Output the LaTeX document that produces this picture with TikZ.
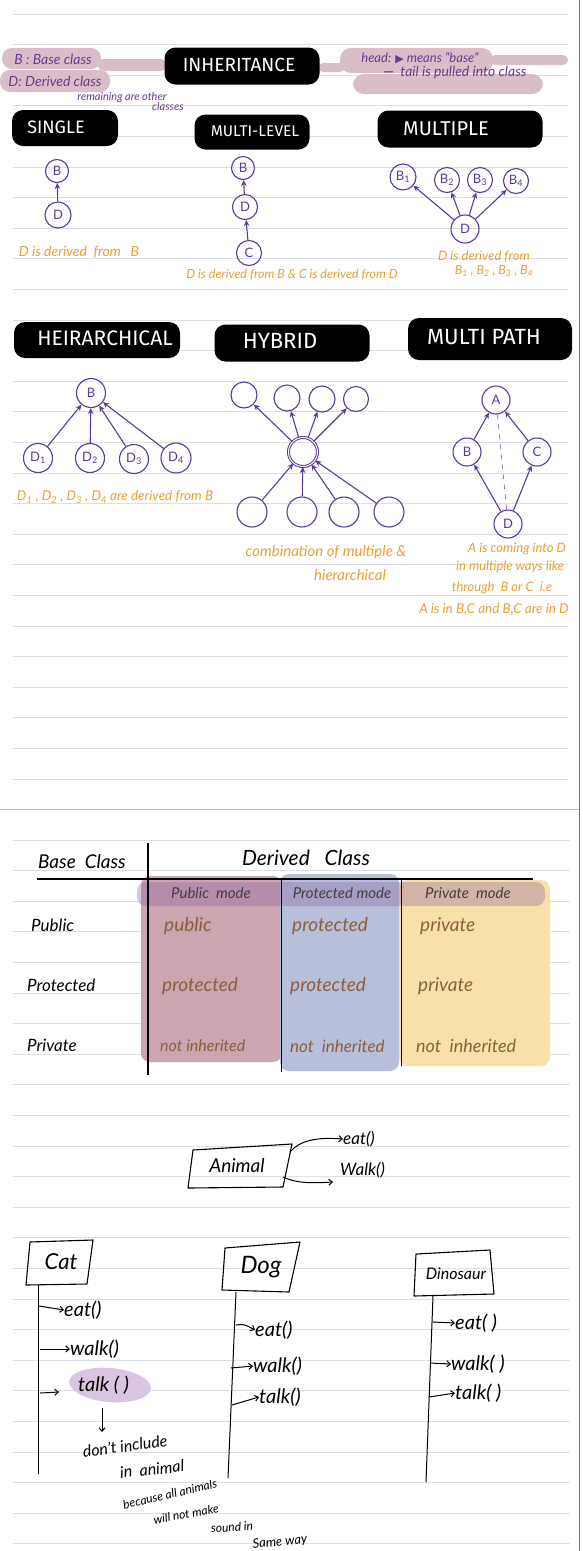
\documentclass[tikz,border=0pt]{standalone}
\usepackage{fontspec}
\setmainfont{Lato}
\newfontfamily\titlef{Fira Sans}
\newfontfamily\symf{DejaVu Sans}
\usetikzlibrary{arrows.meta}
\definecolor{ink}{HTML}{5B3A9A}
\definecolor{orng}{HTML}{E9A033}
\definecolor{ruleclr}{HTML}{DCDFE8}
\definecolor{pinkhl}{HTML}{D9BDC8}
\definecolor{notep}{HTML}{6A3A8C}
\definecolor{tpink}{HTML}{CBA5B0}
\definecolor{tblue}{HTML}{B7BFDA}
\definecolor{tyell}{HTML}{F7E1A9}
\definecolor{tband}{HTML}{8E5F9E}
\definecolor{brown}{HTML}{8B5E3C}
\definecolor{lilac}{HTML}{D9C5E1}
\newcommand\fs[1]{\fontsize{#1}{#1}\selectfont}
\tikzset{
  ruleline/.style={draw=ruleclr, line width=0.9pt},
  circ/.style={circle, draw=ink, line width=1.1pt, minimum size=24pt, inner sep=0pt,
    text=ink, font=\fs{13}},
  parr/.style={-{Stealth[length=6pt,width=5.5pt]}, draw=ink, line width=1.1pt},
  captxt/.style={text=orng, font=\itshape\fs{13}, inner sep=0pt},
  ttl/.style={fill=black, rounded corners=11pt, inner sep=0pt},
  ttxt/.style={text=white, inner sep=0pt},
  pill/.style={fill=pinkhl},
  notetxt/.style={text=notep, font=\itshape\fs{14}, inner sep=0pt},
  hand/.style={line width=1.1pt, line join=round},
  barr/.style={-{Straight Barb[length=3.5pt,width=6pt]}, line width=1pt},
  btxt/.style={inner sep=0pt, font=\itshape\fs{20}},
  celltxt/.style={inner sep=0pt, text=brown, font=\itshape\fs{19}, anchor=west},
  modetxt/.style={inner sep=0pt, text=black!75, font=\itshape\fs{15}},
  rowl/.style={inner sep=0pt, font=\itshape\fs{17}, anchor=west}
}
\begin{document}
\begin{tikzpicture}[x=1pt,y=-1pt]
\useasboundingbox (0,0) rectangle (583,1551);
\fill[white] (0,0) rectangle (583,1551);
% ruled lines
\foreach \k in {0,...,25} {\draw[ruleline] (13,{14+30.6*\k}) -- (568,{14+30.6*\k});}
\foreach \k in {0,...,23} {\draw[ruleline] (13,{840+30.6*\k}) -- (570,{840+30.6*\k});}
\draw[black!25, line width=1pt] (0,809) -- (579,809);
\draw[black!55, line width=1.2pt] (579.5,0) -- (579.5,1551);

% ---------------- header ----------------
\fill[pill, rounded corners=10pt] (2,48) rectangle (101,69);
\fill[pill, rounded corners=10pt] (0,70) rectangle (110,92);
\fill[pill, rounded corners=6pt] (98,59) rectangle (166,71);
\fill[pill, rounded corners=5pt] (318,63) rectangle (345,72);
\fill[pill, rounded corners=11pt] (340,48) rectangle (493,73);
\fill[pill, rounded corners=5pt] (490,55) rectangle (568,65);
\fill[pill, rounded corners=11pt] (353,74) rectangle (543,94);
\node[notetxt] (nB) at (53,59) {B : Base class};
\node[notetxt] (nD) at (55,81) {D: Derived class};
\node[notetxt, font=\itshape\fs{11}] (nR1) at (122,97) {remaining are other};
\node[notetxt, font=\itshape\fs{11}] (nR2) at (168,106) {classes};
\node[ttl, minimum width=155pt, minimum height=37pt] (bInh) at (242,66) {};
\node[ttxt, font=\titlef\fs{19}] (tInh) at (239,65) {INHERITANCE};
\node[notetxt, font=\itshape\fs{13}] (nHead) at (420,58) {head: {\symf\fs{11}▶} means ``base''};
\node[notetxt] (nTail) at (455,73) {\textbf{---} \ tail is pulled into class};

% ---------------- row 1 titles ----------------
\node[ttl, minimum width=106pt, minimum height=36pt] (bSingle) at (65,128) {};
\node[ttxt, font=\titlef\fs{18}] (tSingle) at (56,127) {SINGLE};
\node[ttl, minimum width=115pt, minimum height=35pt] (bMulti) at (252,132) {};
\node[ttxt, font=\titlef\fs{15.5}] (tMulti) at (255,131) {MULTI-LEVEL};
\node[ttl, minimum width=165pt, minimum height=37pt] (bMultiple) at (460,129) {};
\node[ttxt, font=\titlef\fs{20}] (tMultiple) at (446,129) {MULTIPLE};

% SINGLE
\node[circ, minimum size=23pt] (sB) at (57,171) {B};
\node[circ, minimum size=26pt] (sD) at (58,215) {D};
\draw[parr] (sD) -- (sB);
\node[captxt, font=\itshape\fs{14}] (cSingle) at (79,252) {D is derived \ from \ \ B};

% MULTI-LEVEL
\node[circ, minimum size=23pt] (mB) at (243,168) {B};
\node[circ, minimum size=25pt] (mD) at (245,207) {D};
\node[circ, minimum size=25pt] (mC) at (249,253) {C};
\draw[parr] (mD) -- (mB);
\draw[parr] (mC) -- (mD);
\node[captxt, font=\itshape\fs{12.5}] (cMulti) at (292,275) {D is derived from B \& C is derived from D};

% MULTIPLE
\node[circ, minimum size=26pt] (pB1) at (403,177) {B\textsubscript{1}};
\node[circ, minimum size=25pt] (pB2) at (447,180) {B\textsubscript{2}};
\node[circ, minimum size=25pt] (pB3) at (480,180) {B\textsubscript{3}};
\node[circ, minimum size=25pt] (pB4) at (516,181) {B\textsubscript{4}};
\node[circ, minimum size=28pt] (pD) at (465,229) {D};
\draw[parr] (pD) -- (pB1);
\draw[parr] (pD) -- (pB2);
\draw[parr] (pD) -- (pB3);
\draw[parr] (pD) -- (pB4);
\node[captxt] (cMul1) at (484,257) {D is derived from};
\node[captxt, font=\itshape\fs{12.5}] (cMul2) at (494,271) {B\textsubscript{1} , B\textsubscript{2} , B\textsubscript{3} , B\textsubscript{4}};

% ---------------- row 2 titles ----------------
\node[ttl, minimum width=166pt, minimum height=36pt] (bHier) at (97,340) {};
\node[ttxt, font=\titlef\fs{21}] (tHier) at (105,338) {HEIRARCHICAL};
\node[ttl, minimum width=155pt, minimum height=37pt] (bHyb) at (292,343) {};
\node[ttxt, font=\titlef\fs{22}] (tHyb) at (280,341) {HYBRID};
\node[ttl, minimum width=164pt, minimum height=42pt] (bPath) at (490,339) {};
\node[ttxt, font=\titlef\fs{22}] (tPath) at (484,337) {MULTI PATH};

% HEIRARCHICAL
\node[circ, minimum size=29pt] (hB) at (91,393) {B};
\node[circ, minimum size=29pt] (hD1) at (38,458) {D\textsubscript{1}};
\node[circ, minimum size=29pt] (hD2) at (90,458) {D\textsubscript{2}};
\node[circ, minimum size=29pt] (hD3) at (134,459) {D\textsubscript{3}};
\node[circ, minimum size=30pt] (hD4) at (176,458) {D\textsubscript{4}};
\draw[parr] (hD1) -- (hB);
\draw[parr] (hD2) -- (hB);
\draw[parr] (hD3) -- (hB);
\draw[parr] (hD4) -- (hB);
\node[captxt, font=\itshape\fs{13.5}] (cHier) at (115,497) {D\textsubscript{1} , D\textsubscript{2} , D\textsubscript{3} , D\textsubscript{4} are derived from B};

% HYBRID
\node[circ, minimum size=26pt] (yT1) at (244,395) {};
\node[circ, minimum size=26pt] (yT2) at (287,398) {};
\node[circ, minimum size=26pt] (yT3) at (322,399) {};
\node[circ, minimum size=25pt] (yT4) at (356,399) {};
\node[circ, minimum size=29pt, line width=1pt, double=white, double distance=1pt] (yC) at (303,452) {};
\node[circ, minimum size=30pt] (yB1) at (252,512) {};
\node[circ, minimum size=30pt] (yB2) at (302,512) {};
\node[circ, minimum size=30pt] (yB3) at (344,512) {};
\node[circ, minimum size=30pt] (yB4) at (389,512) {};
\draw[parr] (yC) -- (yT1);
\draw[parr] (yC) -- (yT2);
\draw[parr] (yC) -- (yT3);
\draw[parr] (yC) -- (yT4);
\draw[parr] (yB1) -- (yC);
\draw[parr] (yB2) -- (yC);
\draw[parr] (yB3) -- (yC);
\draw[parr] (yB4) -- (yC);
\node[captxt, font=\itshape\fs{15}] (cHyb1) at (326,552) {combination of multiple \&};
\node[captxt, font=\itshape\fs{15}] (cHyb2) at (350,575) {hierarchical};

% MULTI PATH
\node[circ, minimum size=28pt] (xA) at (496,400) {A};
\node[circ, minimum size=28pt] (xB) at (467,452) {B};
\node[circ, minimum size=28pt] (xC) at (537,452) {C};
\node[circ, minimum size=28pt] (xD) at (508,524) {D};
\draw[parr] (xB) -- (xA);
\draw[parr] (xC) -- (xA);
\draw[parr] (xD) -- (xB);
\draw[parr] (xD) -- (xC);
\draw[ink!70, line width=0.7pt, dash pattern=on 5pt off 5pt] (xA) -- (xD);
\node[captxt] (cPath1) at (517,549) {A is coming into D};
\node[captxt] (cPath2) at (510,567) {in multiple ways like};
\node[captxt] (cPath3) at (502,588) {through \ B or C \ i.e};
\node[captxt, font=\itshape\fs{13.5}] (cPath4) at (494,609) {A is in B,C and B,C are in D};

% ---------------- table ----------------
\fill[tpink, rounded corners=9pt] (141,876) rectangle (282,1062);
\fill[tblue, rounded corners=9pt] (280,874) rectangle (399,1071);
\fill[tyell, rounded corners=9pt] (399,880) rectangle (550,1066);
\fill[tband, opacity=0.35, rounded corners=9pt] (137,882) rectangle (545,906);
\draw[line width=1.1pt] (148,843) -- (148,1075);
\draw[line width=1.1pt] (37,879) -- (533,879);
\draw[line width=0.9pt] (281,880) -- (281,1072);
\draw[line width=0.9pt] (401,880) -- (401,1066);
\node[inner sep=0pt, font=\itshape\fs{19}] (hBase) at (82,862) {Base \ Class};
\node[inner sep=0pt, font=\itshape\fs{21}] (hDer) at (306,858) {Derived \ \ Class};
\node[rowl] (rPub) at (31,925) {Public};
\node[rowl] (rProt) at (27,985) {Protected};
\node[rowl] (rPriv) at (27,1045) {Private};
\node[modetxt] (mPub) at (211,893) {Public \ mode};
\node[modetxt] (mProt) at (342,893) {Protected mode};
\node[modetxt] (mPriv) at (468,893) {Private \ mode};
\node[celltxt] (c11) at (164,926) {public};
\node[celltxt] (c12) at (292,926) {protected};
\node[celltxt] (c13) at (420,926) {private};
\node[celltxt] (c21) at (162,986) {protected};
\node[celltxt] (c22) at (290,986) {protected};
\node[celltxt] (c23) at (418,986) {private};
\node[celltxt, font=\itshape\fs{16}] (c31) at (160,1046) {not inherited};
\node[celltxt, font=\itshape\fs{17}] (c32) at (290,1046) {not \ inherited};
\node[celltxt, font=\itshape\fs{18}] (c33) at (416,1046) {not \ inherited};

% ---------------- Animal ----------------
\draw[hand] (193,1150) -- (292,1144) -- (283,1187) -- (188,1188) -- cycle;
\node[btxt, font=\itshape\fs{19}] (animal) at (237,1166) {Animal};
\node[btxt, anchor=west, font=\itshape\fs{17}] (aEat) at (343,1139) {eat()};
\node[btxt, anchor=west, font=\itshape\fs{17}] (aWalk) at (340,1170) {Walk()};
\coordinate (aS1) at (290,1152);
\coordinate (aS2) at (283,1177);
\coordinate (aE2) at (333,1182);
\draw[barr] (aS1) .. controls (300,1140) and (318,1137) .. (aEat.west);
\draw[barr] (aS2) .. controls (298,1184) and (315,1183) .. (aE2);

% ---------------- Cat ----------------
\draw[hand] (30,1242) -- (93,1240) -- (87,1284) -- (26,1285) -- cycle;
\node[btxt, font=\itshape\fs{22}] (cat) at (61,1262) {Cat};
\coordinate (catTop) at (38,1285);
\coordinate (catBot) at (38,1474);
\draw[line width=1pt] (catTop) -- (catBot);
\fill[lilac, rotate around={-5:(110,1385)}] (110,1385) ellipse (41pt and 17pt);
\node[btxt, anchor=west] (catEat) at (64,1310) {eat()};
\node[btxt, anchor=west] (catWalk) at (70,1349) {walk()};
\node[btxt, anchor=west] (catTalk) at (78,1385) {talk ( )};
\coordinate (ca1) at (39,1306); \coordinate (ca2) at (40,1349); \coordinate (ca3) at (40,1393);
\coordinate (ca3e) at (59,1392);
\draw[barr] (ca1) -- (catEat.west);
\draw[barr] (ca2) -- (catWalk.west);
\draw[barr] (ca3) -- (ca3e);
\coordinate (cdTop) at (102,1408);
\coordinate (cdBot) at (102,1432);
\draw[barr] (cdTop) -- (cdBot);
\node[btxt, font=\itshape\fs{16}, rotate=8] (n1) at (125,1446) {don't include};
\node[btxt, font=\itshape\fs{16}, rotate=6] (n2) at (152,1469) {in \ animal};
\node[btxt, font=\itshape\fs{12}, rotate=13] (n3) at (170,1494) {because all animals};
\node[btxt, font=\itshape\fs{12}, rotate=10] (n4) at (186,1514) {will not make};
\node[btxt, font=\itshape\fs{12}, rotate=4] (n5) at (232,1527) {sound in};
\node[btxt, font=\itshape\fs{13}, rotate=6] (n6) at (280,1542) {Same way};

% ---------------- Dog ----------------
\draw[hand] (225,1248) -- (300,1242) -- (289,1292) -- (222,1290) -- cycle;
\node[btxt, font=\itshape\fs{24}] (dog) at (261,1267) {Dog};
\coordinate (dogTop) at (236,1292);
\coordinate (dogBot) at (228,1478);
\draw[line width=1pt] (dogTop) -- (dogBot);
\node[btxt, anchor=west] (dogEat) at (255,1330) {eat()};
\node[btxt, anchor=west] (dogWalk) at (253,1366) {walk()};
\node[btxt, anchor=west] (dogTalk) at (259,1397) {talk()};
\coordinate (da1) at (236,1325); \coordinate (da2) at (231,1368); \coordinate (da3) at (232,1405);
\draw[barr] (da1) .. controls (244,1324) .. (dogEat.west);
\draw[barr] (da2) -- (dogWalk.west);
\draw[barr] (da3) -- (dogTalk.west);

% ---------------- Dinosaur ----------------
\draw[hand] (416,1254) -- (490,1250) -- (494,1294) -- (414,1296) -- cycle;
\node[btxt, font=\itshape\fs{16}] (dino) at (456,1274) {Dinosaur};
\coordinate (dinoTop) at (433,1296);
\coordinate (dinoBot) at (426,1482);
\draw[line width=1pt] (dinoTop) -- (dinoBot);
\node[btxt, anchor=west] (dinoEat) at (455,1323) {eat( )};
\node[btxt, anchor=west] (dinoWalk) at (451,1364) {walk( )};
\node[btxt, anchor=west] (dinoTalk) at (455,1393) {talk( )};
\coordinate (na1) at (433,1322); \coordinate (na2) at (430,1363); \coordinate (na3) at (429,1397);
\draw[barr] (na1) -- (dinoEat.west);
\draw[barr] (na2) -- (dinoWalk.west);
\draw[barr] (na3) -- (dinoTalk.west);
\end{tikzpicture}
\end{document}
